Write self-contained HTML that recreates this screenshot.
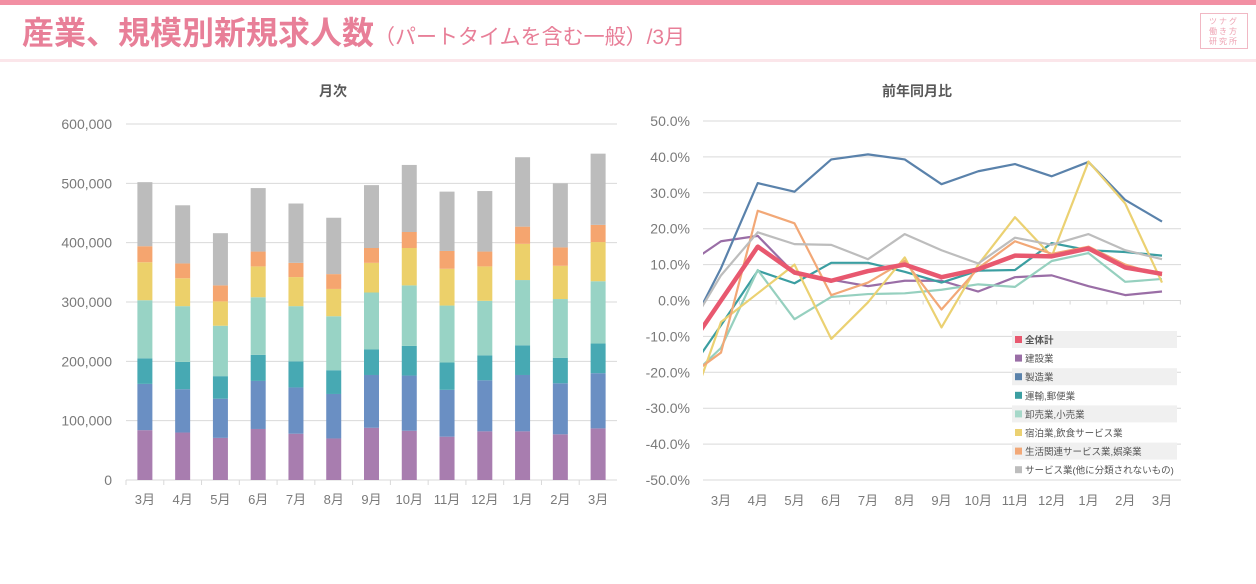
<!DOCTYPE html>
<html><head><meta charset="utf-8"><style>
body{margin:0;width:1256px;height:584px;background:#fff;font-family:"Liberation Sans","Noto Sans CJK JP",sans-serif;overflow:hidden;position:relative}
</style></head><body>
<div style="position:absolute;left:0;top:0;width:1256px;height:5px;background:#f28fa3"></div>
<div style="position:absolute;left:22px;top:11px;color:#e87f98;font-size:32px;font-weight:bold;white-space:nowrap;line-height:44px">産業、規模別新規求人数<span style="font-size:21px;font-weight:normal">（パートタイムを含む一般）/3月</span></div>
<div style="position:absolute;left:0;top:59px;width:1256px;height:3px;background:#fbe6ea"></div>
<div style="position:absolute;left:1200px;top:13px;width:48px;height:36px;border:1px solid #f1b8c4;color:#eea3b3;font-size:8px;line-height:10px;text-align:center;padding-top:3px;box-sizing:border-box;letter-spacing:2px">ツナグ<br>働き方<br>研究所</div>
<svg id="c" width="1256" height="584" style="position:absolute;left:0;top:0" font-family="Liberation Sans, Noto Sans CJK JP, sans-serif"></svg>
<script>
const months=["3月","4月","5月","6月","7月","8月","9月","10月","11月","12月","1月","2月","3月"];
const barSeriesNames=["建設業","製造業","運輸,郵便業","卸売業,小売業","宿泊業,飲食サービス業","生活関連サービス業,娯楽業","サービス業(他に分類されないもの)"];
const barConstruction=[84,80,71,86,78,70,88,83,73,82,82,77,87];
const barManufacturing=[78,73,66,81,78,75,89,93,79,86,95,86,93];
const barTransport=[43,46,38,44,44,40,43,50,46,42,50,43,50];
const barRetail=[98,94,85,97,93,91,96,102,96,92,110,99,105];
const barHospitality=[64,47,41,52,49,46,50,63,62,58,61,56,66];
const barLifestyle=[27,25,27,25,24,25,25,27,30,25,29,31,29];
const barServices=[108,98,88,107,100,95,106,113,100,102,117,108,120];
const yTicksLeft=["0","100,000","200,000","300,000","400,000","500,000","600,000"];
const lineMonths=["2月","3月","4月","5月","6月","7月","8月","9月","10月","11月","12月","1月","2月","3月"];
const lineTotal=[-15,0,15,7.8,5.5,8.2,10,6.5,8.7,12.5,12.3,14.5,9.2,7.4];
const lineConstruction=[9.5,16.5,18,7.5,5.8,4,5.5,5.5,2.5,6.5,7,4,1.5,2.5];
const lineManufacturing=[-11,9,32.7,30.3,39.3,40.7,39.3,32.4,36,38,34.6,38.6,28,22];
const lineTransport=[-21.7,-6.9,8.3,4.8,10.5,10.5,8,5,8.3,8.5,16,14,13.5,12.5];
const lineRetail=[-23,-13.2,8.5,-5.2,1,1.8,2,3,4.5,3.8,11,13.2,5.2,6];
const lineHospitality=[-35,-6,2,10,-10.7,-0.5,12,-7.5,10,23.2,12.3,38.7,27,5];
const lineLifestyle=[-22,-14.5,25,21.5,1.5,5,11,-2.5,9,16.5,13,15,10,7];
const lineServices=[-10,7,19,15.7,15.5,11.5,18.5,14,10.3,17.5,15.5,18.5,14,11.5];
const yTicksRight=["-50.0%","-40.0%","-30.0%","-20.0%","-10.0%","0.0%","10.0%","20.0%","30.0%","40.0%","50.0%"];
const legendNames=["全体計","建設業","製造業","運輸,郵便業","卸売業,小売業","宿泊業,飲食サービス業","生活関連サービス業,娯楽業","サービス業(他に分類されないもの)"];

const svg=document.getElementById('c');const NS='http://www.w3.org/2000/svg';
function mk(t,a,p){const e=document.createElementNS(NS,t);for(const k in a)e.setAttribute(k,a[k]);(p||svg).appendChild(e);return e;}
const lx0=126,lx1=617,ly0=480,ly1=124;
const ly=v=>ly0-(v/600)*(ly0-ly1);
const lstep=(lx1-lx0)/months.length;
const lxc=i=>lx0+lstep*(i+0.5);
let t=mk('text',{x:333,y:96,'text-anchor':'middle','font-size':14,fill:'#595959','font-weight':'bold'});
t.textContent='月次';
yTicksLeft.forEach((s,i)=>{const v=i*100;
 const g=mk('line',{x1:lx0,x2:lx1,y1:ly(v),y2:ly(v),stroke:'#d9d9d9','stroke-width':1});
 
 const tx=mk('text',{x:112,y:ly(v)+5,'text-anchor':'end','font-size':14,fill:'#7a7a7a'});
 tx.textContent=s;});
const barData=[barConstruction,barManufacturing,barTransport,barRetail,barHospitality,barLifestyle,barServices];
const barColors=['#a87daf','#6a8fc3','#47a9b3','#98d3c5','#ecd06a','#f5a56f','#bcbcbc'];
months.forEach((m,i)=>{let cum=0;
 barData.forEach((s,k)=>{const r=mk('rect',{x:lxc(i)-7.5,y:ly(cum+s[i]),width:15,height:ly(cum)-ly(cum+s[i]),fill:barColors[k]});
  cum+=s[i];});
 const tx=mk('text',{x:lxc(i),y:504,'text-anchor':'middle','font-size':13,fill:'#7a7a7a'});
 tx.textContent=m;
 const tk=mk('line',{x1:lx0+lstep*i,x2:lx0+lstep*i,y1:480,y2:485,stroke:'#d9d9d9'});
 });
const rx0=703,rx1=1181,ry0=480,ry1=121;
const ry=v=>ry0-((v+50)/100)*(ry0-ry1);
const rstep=36.75;const rx=i=>721+rstep*(i-1);
t=mk('text',{x:917,y:96,'text-anchor':'middle','font-size':14,fill:'#595959','font-weight':'bold'});
t.textContent='前年同月比';
yTicksRight.forEach((s,i)=>{const v=-50+i*10;
 const g=mk('line',{x1:rx0,x2:rx1,y1:ry(v),y2:ry(v),stroke:'#d9d9d9','stroke-width':1});
 
 const tx=mk('text',{x:690,y:ry(v)+5,'text-anchor':'end','font-size':14,fill:'#7a7a7a'});
 tx.textContent=s;});
lineMonths.forEach((m,i)=>{if(i===0)return;
 const tx=mk('text',{x:rx(i),y:505,'text-anchor':'middle','font-size':13,fill:'#7a7a7a'});
 tx.textContent=m;
 const tk=mk('line',{x1:rx(i)+rstep/2,x2:rx(i)+rstep/2,y1:ry(0),y2:ry(0)+4,stroke:'#d9d9d9'});
 });
const defs=mk('defs',{});const cp=mk('clipPath',{id:'rc'},defs);mk('rect',{x:rx0,y:ry1-20,width:rx1-rx0,height:ry0-ry1+40},cp);
const gl=mk('g',{'clip-path':'url(#rc)'});
const lineData=[lineConstruction,lineManufacturing,lineTransport,lineRetail,lineHospitality,lineLifestyle,lineServices,lineTotal];
const lineColors=['#9a6ea6','#5a82ab','#3b9ea1','#96d0bf','#ebd172','#f2a877','#bdbdbd','#e8586f'];
const lineNames=['construction','manufacturing','transport','retail','hospitality','lifestyle','services','total'];
lineData.forEach((s,k)=>{const d=s.map((v,i)=>(i?'L':'M')+rx(i)+','+ry(v)).join('');
 const p=mk('path',{d:d,fill:'none',stroke:lineColors[k],'stroke-width':k===7?4.5:2.2,'stroke-linejoin':'round'},gl);
 });
const legColors=['#e8586f','#9a6ea6','#5a82ab','#3b9ea1','#a6d8c9','#ebd172','#f2a877','#bdbdbd'];
legendNames.forEach((n,i)=>{const y=331+i*18.6;
 if(i%2===0){const b=mk('rect',{x:1012,y:y,width:165,height:17,fill:'#f0f0f0'});}
 const sw=mk('rect',{x:1015,y:y+5,width:7,height:7,fill:legColors[i]});
 
 const tx=mk('text',{x:1025,y:y+12.5,'font-size':9.5,fill:'#555','font-weight':i===0?'bold':'normal'});
 tx.textContent=n;});
</script>
</body></html>
